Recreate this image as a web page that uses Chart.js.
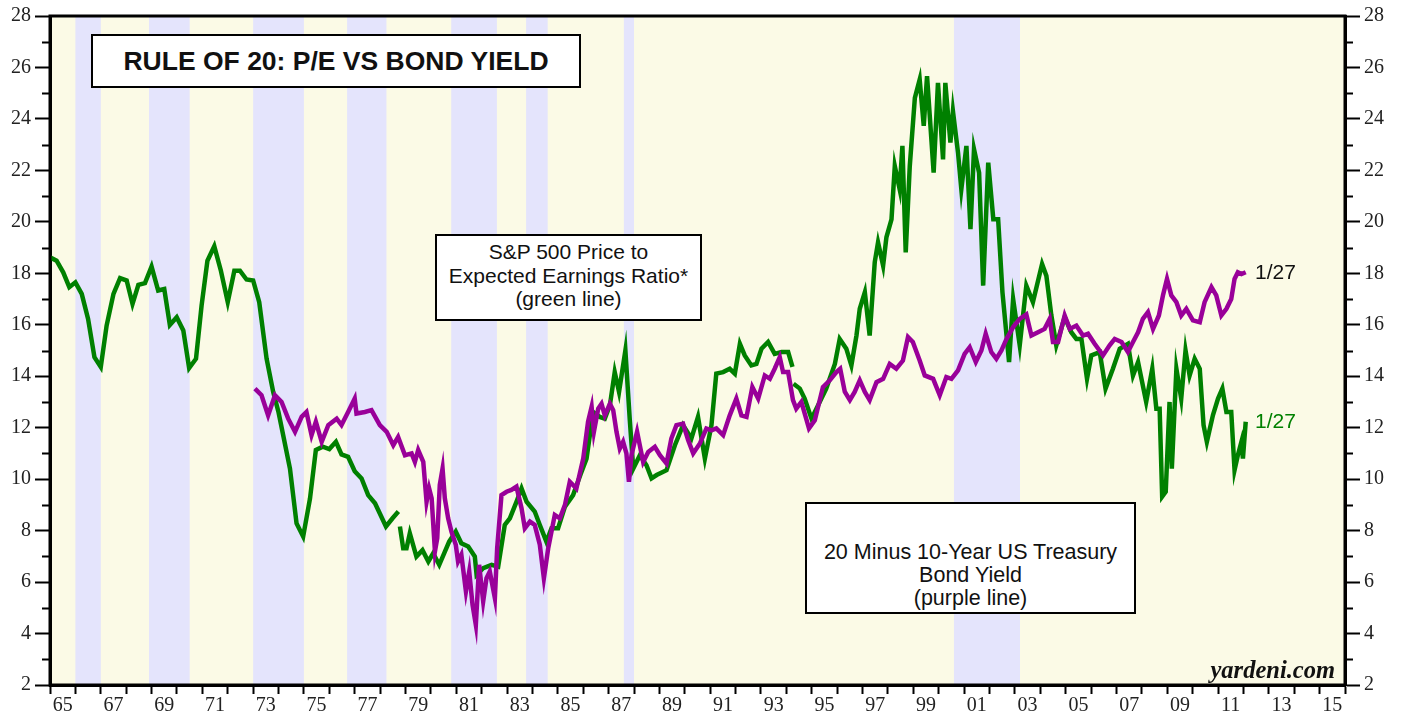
<!DOCTYPE html>
<html>
<head>
<meta charset="utf-8">
<title>Rule of 20: P/E vs Bond Yield</title>
<script src="https://cdn.jsdelivr.net/npm/chart.js@4.4.1/dist/chart.umd.min.js"></script>
<style>
    html, body { margin: 0; padding: 0; background: #fff; }
    #wrap { position: relative; width: 1405px; height: 717px; overflow: hidden; }
    #chart { position: absolute; left: 0; top: 0; }
    .box {
        position: absolute; box-sizing: border-box; background: #fff;
        border: 2px solid #000; text-align: center; color: #111;
        font-family: "Liberation Sans", Arial, sans-serif;
    }
    #title { left: 91px; top: 34px; width: 490px; height: 54px; font-weight: bold; font-size: 26.5px; line-height: 50px; }
    #peBox { left: 435px; top: 234px; width: 267px; height: 87px; font-size: 21px; line-height: 23.5px; padding-top: 4px; }
    #bondBox { left: 805px; top: 502px; width: 331px; height: 112px; font-size: 21.5px; line-height: 23px; padding-top: 37px; }
    .tag { position: absolute; font-family: "Liberation Sans", Arial, sans-serif; font-size: 21px; line-height: 21px; }
    #tagBond { left: 1255px; top: 261px; color: #111; }
    #tagPe { left: 1255px; top: 410px; color: #008000; }
    #source {
        position: absolute; right: 70px; top: 656px; font-family: "Liberation Serif", "Times New Roman", serif;
        font-weight: bold; font-style: italic; font-size: 24.5px; color: #111;
    }
</style>
</head>
<body>
<div id="wrap">
    <canvas id="chart" width="1405" height="717"></canvas>
    <div class="box" id="title">RULE OF 20: P/E VS BOND YIELD</div>
    <div class="box" id="peBox">S&amp;P 500 Price to<br>Expected Earnings Ratio*<br>(green line)</div>
    <div class="box" id="bondBox">20 Minus 10-Year US Treasury<br>Bond Yield<br>(purple line)</div>
    <div class="tag" id="tagBond">1/27</div>
    <div class="tag" id="tagPe">1/27</div>
    <div id="source">yardeni.com</div>
</div>
<script>
(function () {
    "use strict";

    // S&P 500 forward P/E (green), null = break in the series
    var peYears = [
        1965.0, 1965.26, 1965.52, 1965.76, 1966.0, 1966.25, 1966.5, 1966.75, 1967.0, 1967.23,
        1967.5, 1967.76, 1968.02, 1968.25, 1968.48, 1968.74, 1969.0, 1969.26, 1969.5, 1969.72,
        1969.99, 1970.25, 1970.48, 1970.75, 1970.97, 1971.2, 1971.47, 1971.73, 1972.0, 1972.26,
        1972.48, 1972.74, 1973.0, 1973.24, 1973.53, 1973.79, 1974.0, 1974.45, 1974.71, 1974.97,
        1975.24, 1975.47, 1975.74, 1976.0, 1976.26, 1976.48, 1976.74, 1977.0, 1977.27, 1977.53,
        1977.8, 1978.23, 1978.49, 1978.72, 1978.75, 1978.78, 1978.91, 1979.04, 1979.17, 1979.43,
        1979.67, 1979.9, 1980.09, 1980.33, 1980.72, 1980.98, 1981.2, 1981.47, 1981.73, 1981.8,
        1982.06, 1982.39, 1982.65, 1982.91, 1983.11, 1983.37, 1983.57, 1983.77, 1984.09, 1984.29,
        1984.55, 1984.75, 1985.01, 1985.28, 1985.6, 1985.9, 1986.13, 1986.39, 1986.65, 1986.85,
        1987.05, 1987.24, 1987.41, 1987.66, 1987.83, 1987.97, 1988.23, 1988.49, 1988.69, 1988.89,
        1989.28, 1989.61, 1989.93, 1990.26, 1990.52, 1990.79, 1991.05, 1991.24, 1991.51, 1991.77,
        1991.97, 1992.17, 1992.36, 1992.62, 1992.82, 1993.02, 1993.28, 1993.54, 1993.81, 1994.07,
        1994.24, 1994.26, 1994.28, 1994.53, 1994.72, 1994.99, 1995.25, 1995.57, 1995.91, 1996.1,
        1996.36, 1996.56, 1996.76, 1996.89, 1997.09, 1997.28, 1997.48, 1997.61, 1997.81, 1997.94,
        1998.14, 1998.27, 1998.46, 1998.57, 1998.7, 1998.86, 1999.06, 1999.25, 1999.41, 1999.54,
        1999.8, 1999.97, 2000.17, 2000.26, 2000.46, 2000.56, 2000.76, 2000.89, 2001.09, 2001.25,
        2001.39, 2001.59, 2001.75, 2001.95, 2002.15, 2002.34, 2002.51, 2002.77, 2002.93, 2003.19,
        2003.45, 2003.71, 2004.07, 2004.24, 2004.43, 2004.63, 2004.96, 2005.22, 2005.42, 2005.62,
        2005.84, 2006.01, 2006.34, 2006.57, 2006.86, 2007.13, 2007.45, 2007.65, 2007.85, 2008.17,
        2008.41, 2008.57, 2008.7, 2008.8, 2008.94, 2009.09, 2009.18, 2009.36, 2009.55, 2009.72,
        2009.88, 2010.08, 2010.28, 2010.43, 2010.56, 2010.8, 2011.0, 2011.17, 2011.33, 2011.52,
        2011.65, 2011.78, 2011.92, 2011.98, 2012.09
    ];
    var peValues = [
        18.62, 18.49, 18.04, 17.46, 17.65, 17.2, 16.23, 14.74, 14.36, 15.97,
        17.2, 17.81, 17.72, 16.81, 17.55, 17.62, 18.26, 17.33, 17.39, 15.99,
        16.29, 15.78, 14.32, 14.68, 16.75, 18.49, 19.05, 18.1, 16.88, 18.1,
        18.1, 17.76, 17.72, 16.88, 14.68, 13.39, 12.6, 10.41, 8.28, 7.77,
        9.25, 11.13, 11.26, 11.17, 11.45, 10.96, 10.87, 10.31, 10.03, 9.38,
        9.06, 8.16, 8.48, 8.74, null, 8.16, 7.31, 7.31, 7.9, 6.99,
        7.24, 6.8, 7.12, 6.67, 7.57, 7.96, 7.51, 7.38, 6.99, 6.28,
        6.54, 6.67, 6.6, 8.22, 8.48, 9.12, 9.64, 9.12, 8.74, 8.22,
        7.57, 8.09, 8.09, 8.93, 9.38, 10.2, 10.8, 12.61, 12.42, 12.35,
        12.87, 14.16, 13.39, 15.0, 12.35, 10.41, 10.93, 10.54, 10.03, 10.16,
        10.35, 11.32, 12.1, 11.58, 12.42, 10.8, 12.1, 14.1, 14.16, 14.29,
        14.1, 15.26, 14.81, 14.42, 14.48, 15.07, 15.33, 14.87, 14.94, 14.94,
        14.36, null, 13.71, 13.52, 13.13, 12.35, 12.87, 13.52, 14.48, 15.45,
        15.07, 14.42, 15.58, 16.62, 17.26, 15.58, 18.43, 19.2, 18.3, 19.4,
        20.1, 22.17, 21.27, 22.95, 18.81, 22.17, 24.82, 25.53, 23.73, 25.66,
        21.91, 25.4, 22.43, 25.4, 23.08, 24.3, 22.69, 21.27, 22.95, 19.72,
        22.82, 21.91, 17.52, 22.3, 20.1, 20.1, 17.26, 14.55, 17.0, 15.2,
        17.52, 16.88, 18.36, 17.9, 16.4, 15.2, 16.3, 15.71, 15.45, 15.45,
        13.9, 14.81, 14.94, 13.52, 14.29, 15.07, 15.26, 14.03, 14.55, 13.0,
        14.29, 12.74, 12.74, 9.32, 9.51, 13.0, 10.41, 14.29, 13.13, 15.0,
        14.03, 14.68, 14.29, 12.1, 11.45, 12.49, 13.13, 13.52, 12.61, 12.61,
        10.35, 10.93, 11.45, 10.8, 12.23
    ];

    // 20 minus 10-year Treasury yield (purple)
    var bondYears = [
        1973.07, 1973.33, 1973.59, 1973.86, 1974.12, 1974.38, 1974.65, 1974.91, 1975.1, 1975.3,
        1975.47, 1975.7, 1975.96, 1976.29, 1976.48, 1976.74, 1977.0, 1977.07, 1977.4, 1977.66,
        1977.99, 1978.26, 1978.52, 1978.71, 1978.98, 1979.24, 1979.37, 1979.5, 1979.7, 1979.83,
        1979.93, 1980.03, 1980.16, 1980.25, 1980.35, 1980.46, 1980.55, 1980.68, 1980.81, 1980.98,
        1981.07, 1981.2, 1981.38, 1981.51, 1981.64, 1981.77, 1981.9, 1982.06, 1982.19, 1982.32,
        1982.52, 1982.61, 1982.78, 1982.98, 1983.17, 1983.37, 1983.57, 1983.7, 1983.9, 1984.09,
        1984.29, 1984.45, 1984.62, 1984.88, 1985.08, 1985.28, 1985.47, 1985.73, 1986.0, 1986.19,
        1986.33, 1986.42, 1986.59, 1986.72, 1986.85, 1987.05, 1987.18, 1987.31, 1987.44, 1987.57,
        1987.7, 1987.8, 1987.9, 1988.12, 1988.36, 1988.56, 1988.82, 1989.02, 1989.28, 1989.47,
        1989.67, 1989.93, 1990.13, 1990.33, 1990.6, 1990.85, 1991.05, 1991.24, 1991.51, 1991.77,
        1992.03, 1992.23, 1992.43, 1992.66, 1992.89, 1993.15, 1993.35, 1993.54, 1993.74, 1993.87,
        1994.07, 1994.26, 1994.39, 1994.59, 1994.89, 1995.12, 1995.44, 1995.71, 1995.97, 1996.12,
        1996.3, 1996.5, 1996.69, 1996.89, 1997.09, 1997.28, 1997.55, 1997.81, 1998.07, 1998.33,
        1998.59, 1998.79, 1998.98, 1999.25, 1999.45, 1999.78, 2000.04, 2000.3, 2000.5, 2000.76,
        2001.02, 2001.22, 2001.46, 2001.68, 2001.85, 2002.07, 2002.27, 2002.47, 2002.67, 2002.93,
        2003.19, 2003.45, 2003.65, 2003.91, 2004.17, 2004.37, 2004.5, 2004.7, 2004.96, 2005.16,
        2005.42, 2005.68, 2005.88, 2006.14, 2006.47, 2006.73, 2006.93, 2007.2, 2007.45, 2007.65,
        2007.85, 2008.04, 2008.24, 2008.44, 2008.67, 2008.83, 2008.99, 2009.16, 2009.36, 2009.55,
        2009.75, 2010.01, 2010.28, 2010.47, 2010.74, 2010.93, 2011.13, 2011.33, 2011.52, 2011.65,
        2011.78, 2011.92, 2012.09
    ];
    var bondValues = [
        13.52, 13.26, 12.48, 13.26, 13.0, 12.35, 11.84, 12.42, 12.61, 11.71,
        12.23, 11.45, 12.1, 12.35, 12.1, 12.61, 13.13, 12.55, 12.61, 12.68,
        12.1, 11.84, 11.32, 11.64, 10.93, 11.0, 10.67, 11.13, 10.67, 9.12,
        9.64, 9.25, 7.19, 7.7, 9.77, 10.41, 9.25, 8.48, 7.96, 7.45,
        6.8, 7.06, 5.64, 6.41, 5.12, 4.34, 6.67, 5.25, 6.15, 6.41,
        5.38, 7.31, 9.38, 9.51, 9.58, 9.71, 8.87, 8.09, 8.35, 8.22,
        7.45, 6.15, 7.31, 8.61, 8.48, 9.0, 9.9, 9.64, 10.8, 12.23,
        12.81, 11.84, 12.74, 12.93, 12.48, 12.93, 12.68, 11.84, 11.19, 11.45,
        11.0, 9.9, 10.93, 11.84, 10.67, 11.06, 11.26, 10.93, 10.61, 11.58,
        12.1, 12.16, 11.52, 11.0, 11.4, 11.97, 11.9, 11.97, 11.71, 12.48,
        13.13, 12.48, 12.42, 13.58, 13.13, 14.03, 13.9, 14.29, 14.74, 14.16,
        14.16, 13.07, 12.74, 13.0, 11.97, 12.29, 13.58, 13.84, 14.16, 14.29,
        13.4, 13.07, 13.39, 13.84, 13.39, 13.07, 13.77, 13.9, 14.48, 14.29,
        14.61, 15.52, 15.33, 14.61, 14.03, 13.9, 13.26, 13.97, 13.9, 14.23,
        14.87, 15.13, 14.55, 15.0, 15.65, 14.94, 14.68, 15.0, 15.45, 15.91,
        16.23, 16.4, 15.58, 15.71, 15.84, 16.23, 15.33, 15.33, 16.36, 15.84,
        15.97, 15.58, 15.65, 15.26, 14.81, 15.2, 15.45, 15.33, 14.94, 15.33,
        15.71, 16.23, 16.49, 15.84, 16.36, 17.14, 17.78, 17.14, 16.88, 16.36,
        16.62, 16.17, 16.1, 16.88, 17.46, 17.14, 16.36, 16.62, 17.0, 17.78,
        18.04, 17.97, 18.04
    ];

    // Shaded periods (start / end, in years)
    var shadedStart = [1966.0, 1968.9, 1973.0, 1976.7, 1980.8, 1983.75, 1987.6, 2000.6];
    var shadedEnd   = [1967.0, 1970.5, 1975.0, 1978.25, 1982.6, 1984.6, 1988.0, 2003.2];

    // Axis ticks: a mark on every year, a label on every other mid-year
    var yearTicks = [];
    for (var yr = 1965; yr <= 2016; yr++) {
        yearTicks.push(yr);
        if (yr < 2016) yearTicks.push(yr + 0.5);
    }

    function toPoints(xs, ys) {
        return xs.map(function (x, i) { return {x: x, y: ys[i]}; });
    }

    function isWhole(v) {
        return Math.abs(v - Math.round(v)) < 0.01;
    }

    // Background, shaded bands, frame and minor ticks
    var backdrop = {
        id: 'backdrop',
        beforeDraw: function (chart) {
            var a = chart.chartArea, xs = chart.scales.x, c = chart.ctx;
            c.save();
            c.fillStyle = '#fbfae6';
            c.fillRect(a.left, a.top, a.right - a.left, a.bottom - a.top);
            c.fillStyle = '#e4e4fc';
            shadedStart.forEach(function (s, i) {
                var x0 = xs.getPixelForValue(s), x1 = xs.getPixelForValue(shadedEnd[i]);
                c.fillRect(x0, a.top, x1 - x0, a.bottom - a.top);
            });
            c.restore();
        },
        afterDraw: function (chart) {
            var a = chart.chartArea, ys = chart.scales.y, c = chart.ctx;
            c.save();
            c.strokeStyle = '#000';
            c.lineWidth = 2;
            for (var v = 3; v < 28; v += 2) {
                var py = Math.round(ys.getPixelForValue(v)) + 0.5;
                c.beginPath();
                c.moveTo(a.left - 8, py); c.lineTo(a.left, py);
                c.moveTo(a.right, py); c.lineTo(a.right + 8, py);
                c.stroke();
            }
            c.lineWidth = 3;
            c.strokeRect(a.left, a.top, a.right - a.left, a.bottom - a.top);
            c.restore();
        }
    };

    Chart.defaults.font.family = '"Liberation Serif", "Times New Roman", serif';
    Chart.defaults.font.size = 20;
    Chart.defaults.color = "#222";

    var yAxis = function (side, width) {
        return {
            type: 'linear',
            position: side,
            min: 2,
            max: 28,
            afterFit: function (s) { s.width = width; },
            border: {display: true, color: '#000', width: 3},
            grid: {
                drawOnChartArea: false,
                tickLength: 15,
                tickWidth: 2,
                tickColor: function (ctx) {
                    return ctx.tick && ctx.tick.value % 2 === 0 ? '#000' : 'rgba(0,0,0,0)';
                }
            },
            ticks: {
                stepSize: 1,
                padding: 4,
                callback: function (v) { return v % 2 === 0 ? String(v) : ''; }
            }
        };
    };

    var ctx = document.getElementById('chart').getContext('2d');
    var myChart = new Chart(ctx, {
        type: 'line',
        data: {
            datasets: [{
                    label: '20 Minus 10-Year US Treasury Bond Yield',
                    data: toPoints(bondYears, bondValues),
                    borderColor: '#990099',
                    borderWidth: 4.5,
                    pointRadius: 0,
                    tension: 0,
                    spanGaps: false
                },
                {
                    label: 'S&P 500 Price to Expected Earnings Ratio',
                    data: toPoints(peYears, peValues),
                    borderColor: '#008000',
                    borderWidth: 4.5,
                    pointRadius: 0,
                    tension: 0,
                    spanGaps: false
                }
            ]
        },
        options: {
            responsive: false,
            animation: false,
            devicePixelRatio: 1,
            layout: {padding: {top: 13, left: 0, right: 0, bottom: 0}},
            plugins: {legend: {display: false}, tooltip: {enabled: false}},
            scales: {
                x: {
                    type: 'linear',
                    min: 1965,
                    max: 2016,
                    afterFit: function (s) { s.height = 32; },
                    afterBuildTicks: function (s) {
                        s.ticks = yearTicks.map(function (v) { return {value: v}; });
                    },
                    border: {display: true, color: '#000', width: 3},
                    grid: {
                        drawOnChartArea: false,
                        tickLength: 9,
                        tickWidth: 2,
                        tickColor: function (ctx) {
                            return ctx.tick && isWhole(ctx.tick.value) ? '#000' : 'rgba(0,0,0,0)';
                        }
                    },
                    ticks: {
                        autoSkip: false,
                        maxRotation: 0,
                        minRotation: 0,
                        padding: 0,
                        callback: function (v) {
                            if (isWhole(v)) return '';
                            var y = Math.floor(v);
                            if (y % 2 === 0) return '';
                            return String(y % 100).padStart(2, '0');
                        }
                    }
                },
                y: yAxis('left', 50),
                y2: yAxis('right', 60)
            }
        },
        plugins: [backdrop]
    });
})();
</script>
</body>
</html>
